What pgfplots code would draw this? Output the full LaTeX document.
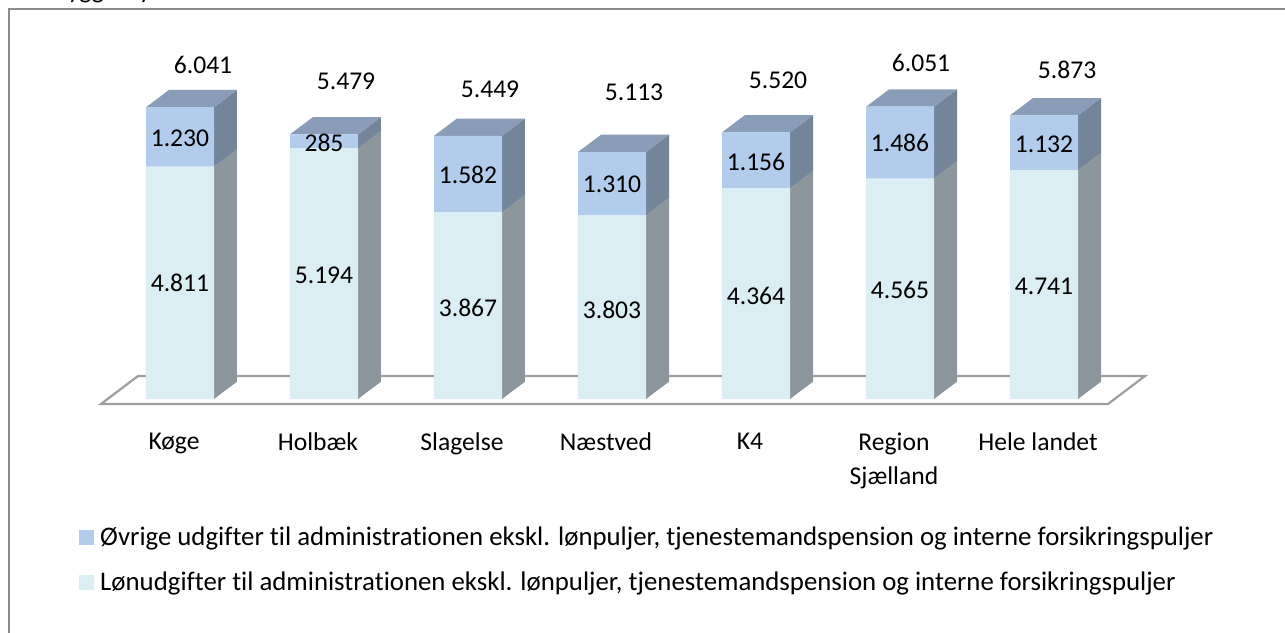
\documentclass[border=0pt]{standalone}
\usepackage{pgfplots}
\pgfplotsset{compat=1.18}
\usepackage{fontspec}
\setmainfont{Carlito}[Ligatures=NoCommon]
\definecolor{lowc}{HTML}{DBEEF4}
\definecolor{highc}{HTML}{B2CCEB}
\definecolor{topc}{HTML}{8A9DB8}
\definecolor{sideh}{HTML}{748499}
\definecolor{sidel}{HTML}{8B979C}
\definecolor{framec}{HTML}{8C8C8C}
\definecolor{floorc}{HTML}{9E9E9E}
\pgfplotsset{
  common/.style={at={(0pt,0pt)},anchor=south west,x=144pt,y=0.0483pt,
    xmin=-0.5486,xmax=6.4444,ymin=-103.5,ymax=7000,clip=false},
  sh/.style={forget plot,draw=none,fill=sideh},
  sl/.style={forget plot,draw=none,fill=sidel},
  tp/.style={forget plot,draw=none,fill=topc},
}
\tikzset{lab/.style={font=\fontsize{25.6}{30}\selectfont,anchor=center,inner sep=0pt}}
\begin{document}
\begin{tikzpicture}
\path[use as bounding box] (-101pt,-228pt) rectangle (1184pt,404pt);
\node[anchor=base west,inner sep=0pt,font=\fontsize{25.6}{30}\selectfont] at (-33pt,405pt) {ygger\hspace{14pt}y};
\draw[framec,line width=2pt] (-92pt,-230pt) -- (-92pt,395pt) -- (1186pt,395pt);
\begin{axis}[common,hide axis]
\addplot[forget plot,draw=floorc,line width=2.2pt,fill=white] coordinates {(-0.5486,-103.5)(-0.2917,476.2)(6.7014,476.2)(6.4444,-103.5)} -- cycle;
% Koge
\addplot[sl] coordinates {(0.2361,0)(0.3958,358)(0.3958,5169)(0.2361,4811)} -- cycle;
\addplot[sh] coordinates {(0.2361,4811)(0.3958,5169)(0.3958,6399)(0.2361,6041)} -- cycle;
\addplot[tp] coordinates {(-0.2361,6041)(-0.0764,6399)(0.3958,6399)(0.2361,6041)} -- cycle;
% Holbaek
\addplot[sl] coordinates {(1.2361,0)(1.3958,358)(1.3958,5552)(1.2361,5194)} -- cycle;
\addplot[sh] coordinates {(1.2361,5194)(1.3958,5552)(1.3958,5837)(1.2361,5479)} -- cycle;
\addplot[tp] coordinates {(0.7639,5479)(0.9236,5837)(1.3958,5837)(1.2361,5479)} -- cycle;
% Slagelse
\addplot[sl] coordinates {(2.2361,0)(2.3958,358)(2.3958,4225)(2.2361,3867)} -- cycle;
\addplot[sh] coordinates {(2.2361,3867)(2.3958,4225)(2.3958,5807)(2.2361,5449)} -- cycle;
\addplot[tp] coordinates {(1.7639,5449)(1.9236,5807)(2.3958,5807)(2.2361,5449)} -- cycle;
% Naestved
\addplot[sl] coordinates {(3.2361,0)(3.3958,358)(3.3958,4161)(3.2361,3803)} -- cycle;
\addplot[sh] coordinates {(3.2361,3803)(3.3958,4161)(3.3958,5471)(3.2361,5113)} -- cycle;
\addplot[tp] coordinates {(2.7639,5113)(2.9236,5471)(3.3958,5471)(3.2361,5113)} -- cycle;
% K4
\addplot[sl] coordinates {(4.2361,0)(4.3958,358)(4.3958,4722)(4.2361,4364)} -- cycle;
\addplot[sh] coordinates {(4.2361,4364)(4.3958,4722)(4.3958,5878)(4.2361,5520)} -- cycle;
\addplot[tp] coordinates {(3.7639,5520)(3.9236,5878)(4.3958,5878)(4.2361,5520)} -- cycle;
% Region
\addplot[sl] coordinates {(5.2361,0)(5.3958,358)(5.3958,4923)(5.2361,4565)} -- cycle;
\addplot[sh] coordinates {(5.2361,4565)(5.3958,4923)(5.3958,6409)(5.2361,6051)} -- cycle;
\addplot[tp] coordinates {(4.7639,6051)(4.9236,6409)(5.3958,6409)(5.2361,6051)} -- cycle;
% Hele landet
\addplot[sl] coordinates {(6.2361,0)(6.3958,358)(6.3958,5099)(6.2361,4741)} -- cycle;
\addplot[sh] coordinates {(6.2361,4741)(6.3958,5099)(6.3958,6231)(6.2361,5873)} -- cycle;
\addplot[tp] coordinates {(5.7639,5873)(5.9236,6231)(6.3958,6231)(6.2361,5873)} -- cycle;
\end{axis}
\begin{axis}[common,ybar stacked,bar width=68pt,
  axis line style={draw=none},major tick style={draw=none},
  ytick=\empty,xtick={0,1,2,3,4,5,6},
  xticklabels={Køge,Holbæk,Slagelse,Næstved,K4,{Region\\[4pt]Sjælland},Hele landet},
  xticklabel style={font=\fontsize{25.6}{30}\selectfont,align=center,anchor=north,xshift=-6pt,yshift=-29pt,inner sep=0pt},
  reverse legend,
  legend style={at={(axis description cs:-0.0218,-0.3526)},anchor=north west,draw=none,fill=none,
    font=\fontsize{26.8}{31}\selectfont,row sep=21pt,inner sep=0pt,
    cells={anchor=west}},
  legend cell align=left,
  legend image code/.code={\fill[#1] (0pt,-7.5pt) rectangle (15pt,7.5pt);\path (19pt,0pt);},
]
\addplot[draw=none,fill=lowc] coordinates {(0,4811)(1,5194)(2,3867)(3,3803)(4,4364)(5,4565)(6,4741)};
\addplot[draw=none,fill=highc] coordinates {(0,1230)(1,285)(2,1582)(3,1310)(4,1156)(5,1486)(6,1132)};
\legend{{Lønudgifter til administrationen ekskl. lønpuljer, tjenestemandspension og interne forsikringspuljer},{Øvrige udgifter til administrationen ekskl. lønpuljer, tjenestemandspension og interne forsikringspuljer}}
\end{axis}
\begin{axis}[common,hide axis]
\addplot[draw=none,mark=none,forget plot,point meta=explicit symbolic,
  nodes near coords,every node near coord/.style={lab}] coordinates {
 (0.16,6915)[6.041] (1.153,6584)[5.479] (2.153,6418)[5.449] (3.153,6356)[5.113]
 (4.153,6605)[5.520] (5.146,6957)[6.051] (6.16,6812)[5.873]
 (0,2402)[4.811] (1,2567)[5.194] (2,1884)[3.867] (3,1843)[3.803] (4,2133)[4.364] (5,2257)[4.565] (6,2340)[4.741]
 (0,5404)[1.230] (1,5300)[285] (2,4638)[1.582] (3,4451)[1.310] (4,4907)[1.156] (5,5300)[1.486] (6,5280)[1.132]
};
\end{axis}
\end{tikzpicture}
\end{document}
